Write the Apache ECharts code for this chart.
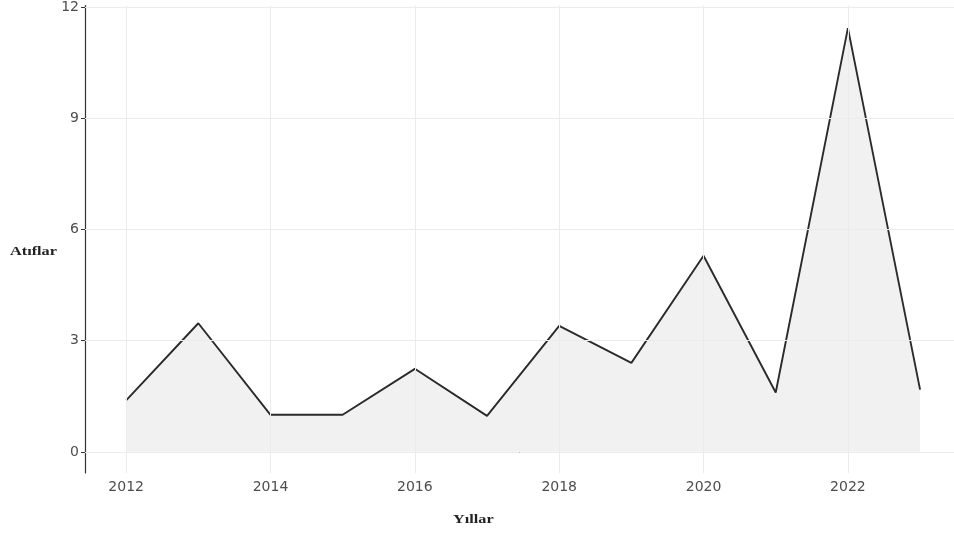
<!DOCTYPE html>
<html>
<head>
<meta charset="utf-8">
<script src="https://cdn.jsdelivr.net/npm/echarts@6/dist/echarts.min.js"></script>
<style>
html,body{margin:0;padding:0;background:#fff;}
#chart{width:954px;height:533px;}
</style>
</head>
<body>
<div id="chart"></div>
<script>
const years = [2012, 2013, 2014, 2015, 2016, 2017, 2018, 2019, 2020, 2021, 2022, 2023];
const citations = [1.39, 3.47, 1.0, 1.0, 2.24, 0.97, 3.40, 2.40, 5.29, 1.60, 11.43, 1.68];
const xTicks = [2012, 2014, 2016, 2018, 2020, 2022];
const yTicks = [0, 3, 6, 9, 12];
const xTitle = 'Yıllar';
const yTitle = 'Atıflar';

const chart = echarts.init(document.getElementById('chart'), null, {renderer: 'canvas'});
const labelStyle = {color: '#4d4d4d', fontSize: 14, fontFamily: 'DejaVu Sans'};
chart.setOption({
  animation: false,
  backgroundColor: '#ffffff',
  grid: {left: 85, right: 0, top: 4.5, bottom: 60, containLabel: false},
  xAxis: {
    type: 'value', min: 2011.43, max: 2023.47,
    axisLine: {show: true, lineStyle: {color: '#333', width: 1.2}},
    axisTick: {show: true, customValues: xTicks, length: 4, lineStyle: {color: '#333'}},
    axisLabel: Object.assign({customValues: xTicks, margin: 7, formatter: v => String(v)}, labelStyle),
    splitLine: {show: false}
  },
  yAxis: {
    type: 'value', min: -0.57, max: 12.04,
    axisLine: {show: true, onZero: false, lineStyle: {color: '#333', width: 1.2}},
    axisTick: {show: true, customValues: yTicks, length: 4, lineStyle: {color: '#333'}},
    axisLabel: Object.assign({customValues: yTicks, margin: 6}, labelStyle),
    splitLine: {show: false}
  },
  graphic: [
    {type: 'text', x: 10, y: 245, scaleX: 1.25, style: {text: yTitle, font: 'bold 13px "Liberation Serif"', fill: '#222'}},
    {type: 'text', x: 453, y: 513, scaleX: 1.25, style: {text: xTitle, font: 'bold 13px "Liberation Serif"', fill: '#222'}}
  ],
  series: [
    {
      type: 'line', silent: true, z: 1,
      data: [],
      markLine: {
        silent: true, symbol: 'none', label: {show: false},
        lineStyle: {color: '#ebebeb', width: 1, type: 'solid'},
        data: yTicks.map(v => ({yAxis: v})).concat(xTicks.map(v => ({xAxis: v})))
      }
    },
    {
      type: 'line', z: 3,
      data: years.map((y, i) => [y, citations[i]]),
      showSymbol: false,
      lineStyle: {color: '#2b2b2b', width: 1.9},
      areaStyle: {color: '#efefef', opacity: 0.85, origin: 0}
    }
  ]
});
</script>
</body>
</html>
